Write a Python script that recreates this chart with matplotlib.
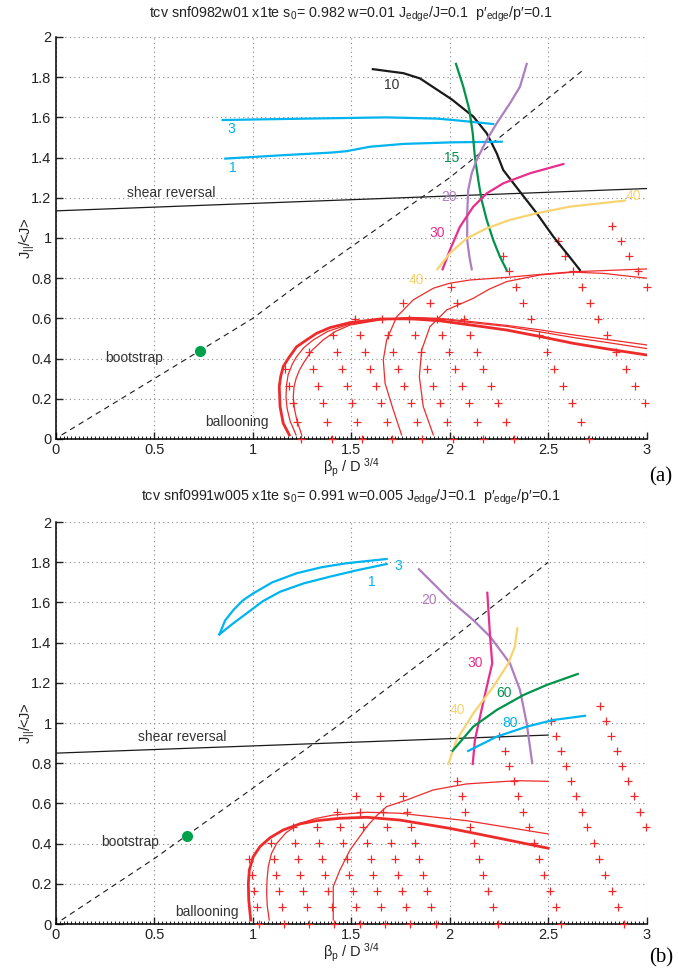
import numpy as np
import matplotlib
matplotlib.use("Agg")
import matplotlib.pyplot as plt
from matplotlib.ticker import MultipleLocator

plt.rcParams['font.family'] = ['Liberation Sans', 'DejaVu Sans']
plt.rcParams['mathtext.default'] = 'regular'

# ---------------- panel (a) data ----------------
a_title = "tcv snf0982w01 x1te s$_0$= 0.982 w=0.01 J$_{edge}$/J=0.1  p\u2032$_{edge}$/p\u2032=0.1"

a_c10_x = [1.61, 1.765, 1.849, 2.01, 2.12, 2.188, 2.239, 2.272, 2.357, 2.442, 2.526, 2.594, 2.661]
a_c10_y = [1.84, 1.82, 1.794, 1.69, 1.604, 1.521, 1.421, 1.338, 1.230, 1.123, 1.007, 0.924, 0.841]

a_c3_x = [0.848, 1.342, 1.680, 1.934, 2.018, 2.12, 2.221]
a_c3_y = [1.587, 1.595, 1.600, 1.594, 1.587, 1.577, 1.567]
a_c1_x = [0.861, 1.173, 1.40, 1.477, 1.595, 1.765, 2.018, 2.264]
a_c1_y = [1.395, 1.413, 1.425, 1.432, 1.454, 1.468, 1.476, 1.479]

a_c15_x = [2.032, 2.069, 2.10, 2.117, 2.128, 2.145, 2.162, 2.188, 2.221, 2.255, 2.289]
a_c15_y = [1.866, 1.753, 1.637, 1.521, 1.404, 1.289, 1.189, 1.09, 0.99, 0.907, 0.841]

a_c20_x = [2.391, 2.357, 2.306, 2.239, 2.188, 2.137, 2.112, 2.094, 2.089, 2.089, 2.10, 2.112]
a_c20_y = [1.866, 1.753, 1.670, 1.571, 1.488, 1.388, 1.322, 1.239, 1.123, 0.99, 0.907, 0.844]

a_c30_x = [1.964, 2.001, 2.052, 2.12, 2.188, 2.272, 2.408, 2.577]
a_c30_y = [0.844, 0.940, 1.056, 1.156, 1.222, 1.272, 1.322, 1.368]

a_c40_x = [1.937, 2.001, 2.086, 2.188, 2.306, 2.442, 2.611, 2.89]
a_c40_y = [0.844, 0.924, 0.998, 1.048, 1.090, 1.123, 1.156, 1.186]

a_shear_x = [0.0, 3.0]
a_shear_y = [1.135, 1.246]

a_boot_x = [0.03, 0.5, 1.0, 1.206, 1.477, 2.0, 2.678]
a_boot_y = [0.02, 0.30, 0.60, 0.75, 0.94, 1.30, 1.836]
a_dot = (0.734, 0.438)

a_ball_x = [1.186, 1.155, 1.139, 1.135, 1.142, 1.155, 1.181, 1.223, 1.274, 1.325, 1.392, 1.494, 1.646,
            1.80, 1.95, 2.1, 2.29, 2.458, 2.627, 2.8, 3.0]
a_ball_y = [0.020, 0.078, 0.161, 0.260, 0.310, 0.360, 0.401, 0.459, 0.493, 0.526, 0.554, 0.579, 0.597,
            0.598, 0.588, 0.568, 0.542, 0.51, 0.476, 0.448, 0.418]
a_thin_a_x = [1.22, 1.19, 1.175, 1.169, 1.172, 1.18, 1.20, 1.223, 1.26, 1.308, 1.38, 1.477, 1.646,
              1.80, 1.95, 2.1, 2.29, 2.458, 2.627, 2.8, 3.0]
a_thin_a_y = [0.02, 0.09, 0.15, 0.21, 0.27, 0.32, 0.37, 0.41, 0.455, 0.493, 0.535, 0.567, 0.595,
              0.603, 0.597, 0.58, 0.56, 0.533, 0.505, 0.48, 0.45]
a_thin_b_x = [1.249, 1.225, 1.212, 1.206, 1.21, 1.22, 1.236, 1.257, 1.30, 1.358, 1.42, 1.494, 1.646,
              1.80, 1.95, 2.1, 2.29, 2.458, 2.627, 2.8, 3.0]
a_thin_b_y = [0.02, 0.09, 0.15, 0.21, 0.26, 0.30, 0.34, 0.377, 0.44, 0.493, 0.535, 0.567, 0.592,
              0.605, 0.6, 0.585, 0.565, 0.543, 0.518, 0.495, 0.468]
a_thin_c_x = [1.756, 1.714, 1.672, 1.663, 1.680, 1.731, 1.815, 1.917, 2.0, 2.103, 2.289, 2.45, 2.627, 3.0]
a_thin_c_y = [0.02, 0.144, 0.277, 0.393, 0.493, 0.608, 0.692, 0.750, 0.775, 0.791, 0.804, 0.818, 0.832, 0.846]
a_thin_d_x = [1.917, 1.866, 1.846, 1.858, 1.90, 1.985, 2.12, 2.20, 2.289, 2.458, 2.627, 2.78, 3.0]
a_thin_d_y = [0.02, 0.161, 0.31, 0.443, 0.559, 0.642, 0.70, 0.745, 0.783, 0.816, 0.83, 0.824, 0.80]

a_row_y = [0.0, 0.086, 0.177, 0.264, 0.350, 0.434, 0.517, 0.597, 0.678, 0.758, 0.837, 0.910, 0.987, 1.061]
a_row_x = [
    [1.245, 1.401, 1.553, 1.709, 1.861, 2.018, 2.171, 2.326, 2.708],
    [1.226, 1.379, 1.528, 1.680, 1.832, 1.985, 2.137, 2.286, 2.665],
    [1.203, 1.355, 1.503, 1.651, 1.802, 1.951, 2.100, 2.247, 2.619, 2.991],
    [1.184, 1.330, 1.477, 1.624, 1.770, 1.914, 2.064, 2.210, 2.577, 2.941],
    [1.164, 1.308, 1.452, 1.596, 1.739, 1.883, 2.027, 2.171, 2.531, 2.894],
    [1.286, 1.429, 1.570, 1.711, 1.854, 1.996, 2.137, 2.492, 2.844],
    [1.406, 1.545, 1.685, 1.824, 1.962, 2.103, 2.453, 2.800],
    [1.519, 1.658, 1.795, 1.934, 2.073, 2.413, 2.754],
    [1.765, 1.900, 2.036, 2.374, 2.712],
    [2.005, 2.335, 2.670, 3.0],
    [2.303, 2.627, 2.954],
    [2.269, 2.585, 2.912],
    [2.551, 2.869],
    [2.826],
]

# ---------------- panel (b) data ----------------
b_title = "tcv snf0991w005 x1te s$_0$= 0.991 w=0.005 J$_{edge}$/J=0.1  p\u2032$_{edge}$/p\u2032=0.1"

b_c3_x = [0.831, 0.86, 0.902, 0.95, 1.003, 1.10, 1.223, 1.35, 1.477, 1.680]
b_c3_y = [1.441, 1.51, 1.562, 1.61, 1.645, 1.70, 1.745, 1.775, 1.795, 1.816]
b_c1_x = [0.831, 0.90, 0.970, 1.05, 1.139, 1.26, 1.392, 1.53, 1.680]
b_c1_y = [1.441, 1.495, 1.546, 1.605, 1.653, 1.695, 1.728, 1.76, 1.791]

b_c20_x = [1.844, 2.001, 2.12, 2.205, 2.306, 2.357, 2.391, 2.419]
b_c20_y = [1.765, 1.612, 1.512, 1.43, 1.297, 1.164, 0.998, 0.80]

b_c30_x = [2.191, 2.205, 2.216, 2.188, 2.154, 2.128, 2.117]
b_c30_y = [1.648, 1.43, 1.297, 1.18, 1.031, 0.915, 0.796]

b_c40_x = [1.993, 2.035, 2.12, 2.221, 2.298, 2.331, 2.343]
b_c40_y = [0.796, 0.915, 1.048, 1.18, 1.297, 1.38, 1.471]

b_c60_x = [2.015, 2.12, 2.239, 2.374, 2.492, 2.65]
b_c60_y = [0.862, 0.982, 1.065, 1.139, 1.189, 1.244]

b_c80_x = [2.094, 2.239, 2.391, 2.526, 2.687]
b_c80_y = [0.861, 0.932, 0.982, 1.015, 1.036]

b_shear_x = [0.0, 2.5]
b_shear_y = [0.85, 0.94]

b_boot_x = [0.03, 0.503, 1.0, 1.5, 2.0, 2.5]
b_boot_y = [0.02, 0.327, 0.675, 1.035, 1.41, 1.80]
b_dot = (0.668, 0.44)

b_ball_x = [0.990, 0.980, 0.978, 0.983, 1.003, 1.037, 1.088, 1.155, 1.240, 1.325, 1.443, 1.579, 1.748,
            2.0, 2.255, 2.50]
b_ball_y = [0.020, 0.119, 0.202, 0.269, 0.335, 0.385, 0.429, 0.468, 0.498, 0.514, 0.526, 0.531, 0.517,
            0.476, 0.426, 0.377]
b_thin_a_x = [1.084, 1.074, 1.071, 1.073, 1.079, 1.095, 1.122, 1.17, 1.24, 1.32, 1.409, 1.579, 1.748, 2.086, 2.50]
b_thin_a_y = [0.02, 0.09, 0.153, 0.22, 0.285, 0.35, 0.401, 0.455, 0.501, 0.525, 0.542, 0.556, 0.551, 0.514, 0.448]
b_thin_b_x = [1.409, 1.409, 1.443, 1.494, 1.579, 1.63, 1.68, 1.782, 1.917, 2.086, 2.34, 2.50]
b_thin_b_y = [0.02, 0.186, 0.269, 0.368, 0.484, 0.54, 0.584, 0.617, 0.667, 0.697, 0.713, 0.71]

b_row_y = [0.0, 0.086, 0.164, 0.244, 0.323, 0.404, 0.484, 0.559, 0.637, 0.713, 0.788, 0.862, 0.937, 1.011, 1.085]
b_row_x = [
    [1.032, 1.161, 1.287, 1.414, 1.545, 1.672, 1.799, 1.929, 2.247, 2.563, 2.885],
    [1.020, 1.147, 1.274, 1.401, 1.524, 1.651, 1.778, 1.905, 2.221, 2.540, 2.853],
    [1.007, 1.134, 1.257, 1.384, 1.508, 1.633, 1.759, 1.883, 2.196, 2.509, 2.822],
    [0.995, 1.118, 1.240, 1.367, 1.490, 1.612, 1.739, 1.863, 2.171, 2.479, 2.788],
    [0.983, 1.108, 1.228, 1.353, 1.477, 1.599, 1.722, 1.844, 2.149, 2.455, 2.758],
    [1.093, 1.215, 1.337, 1.460, 1.582, 1.702, 1.824, 2.125, 2.430, 2.733],
    [1.206, 1.325, 1.443, 1.561, 1.683, 1.802, 2.103, 2.403, 2.698, 2.996],
    [1.426, 1.545, 1.663, 1.785, 2.078, 2.374, 2.673, 2.966],
    [1.524, 1.646, 1.765, 2.061, 2.348, 2.641, 2.935],
    [2.036, 2.326, 2.614, 2.907],
    [2.303, 2.589, 2.876],
    [2.281, 2.563, 2.848],
    [2.252, 2.538, 2.819],
    [2.514, 2.792],
    [2.763],
]

xtick_vals = [0, 0.5, 1, 1.5, 2, 2.5, 3]
xtick_labels = ['0', '0.5', '1', '1.5', '2', '2.5', '3']
ytick_vals = [0, 0.2, 0.4, 0.6, 0.8, 1.0, 1.2, 1.4, 1.6, 1.8, 2.0]
ytick_labels = ['0', '0.2', '0.4', '0.6', '0.8', '1', '1.2', '1.4', '1.6', '1.8', '2']

# colours
CYAN = '#00b4ef'
BLACK = '#1a1a1a'
GREEN = '#00934a'
PURPLE = '#ad7fc0'
MAGENTA = '#ea2e8c'
YELLOW = '#f8d470'
RED = '#ee2b2b'
DOTGREEN = '#00a14b'


def setup_axes(ax, title, title_y):
    ax.set_xlim(0, 3)
    ax.set_ylim(0, 2)
    ax.set_xticks(xtick_vals)
    ax.set_xticklabels(xtick_labels)
    ax.set_yticks(ytick_vals)
    ax.set_yticklabels(ytick_labels)
    ax.xaxis.set_minor_locator(MultipleLocator(0.02))
    ax.tick_params(which='major', direction='in', length=5, width=1, labelsize=10.5, colors='#222222', pad=3)
    ax.tick_params(which='minor', direction='in', length=2, width=0.6, left=False)
    for s in ['top', 'right']:
        ax.spines[s].set_visible(False)
    for s in ['left', 'bottom']:
        ax.spines[s].set_linewidth(1.1)
    ax.grid(True, which='major', linestyle=(0, (1, 3)), color='#888888', linewidth=0.8)
    ax.set_axisbelow(True)
    ax.set_xlabel('\u03b2$_p$ / D$^{\\ 3/4}$', fontsize=10.5, labelpad=0, color='#222222')
    ax.set_ylabel('J$_{||}$/<J>', fontsize=10.5, labelpad=-4, color='#222222')
    fig.text(0.517, title_y, title, ha='center', va='center', fontsize=10.3, color='#222222')


def draw_markers(ax, row_y, row_x):
    for yv, xs in zip(row_y, row_x):
        ax.plot(xs, [yv] * len(xs), linestyle='none', marker='+', color=RED,
                markersize=6, markeredgewidth=0.9, clip_on=False, zorder=3)


fig = plt.figure(figsize=(6.79, 9.71), dpi=100)
ax1 = fig.add_axes([0.082, 0.5479, 0.8704, 0.414])
ax2 = fig.add_axes([0.082, 0.0484, 0.8704, 0.414])

# ---------- (a) ----------
setup_axes(ax1, a_title, 0.9856)
draw_markers(ax1, a_row_y, a_row_x)
ax1.plot(a_ball_x, a_ball_y, color=RED, lw=2.0, zorder=4)
for xs, ys in [(a_thin_a_x, a_thin_a_y), (a_thin_b_x, a_thin_b_y),
               (a_thin_c_x, a_thin_c_y), (a_thin_d_x, a_thin_d_y)]:
    ax1.plot(xs, ys, color=RED, lw=0.9, zorder=4)
ax1.plot(a_shear_x, a_shear_y, color=BLACK, lw=0.9, zorder=4)
ax1.plot(a_boot_x, a_boot_y, color=BLACK, lw=0.8, dashes=(5, 4), zorder=4)
ax1.plot(*a_dot, 'o', color=DOTGREEN, markersize=7, zorder=6)
ax1.plot(a_c10_x, a_c10_y, color=BLACK, lw=1.6, zorder=5)
ax1.plot(a_c3_x, a_c3_y, color=CYAN, lw=1.6, zorder=5)
ax1.plot(a_c1_x, a_c1_y, color=CYAN, lw=1.6, zorder=5)
ax1.plot(a_c15_x, a_c15_y, color=GREEN, lw=1.6, zorder=5)
ax1.plot(a_c20_x, a_c20_y, color=PURPLE, lw=1.6, zorder=5)
ax1.plot(a_c30_x, a_c30_y, color=MAGENTA, lw=1.6, zorder=5)
ax1.plot(a_c40_x, a_c40_y, color=YELLOW, lw=1.6, zorder=5)

lab_kw = dict(fontsize=10, ha='center', va='center', zorder=7)
ax1.text(1.707, 1.761, '10', color='#333333', **lab_kw)
ax1.text(0.89, 1.541, '3', color=CYAN, **lab_kw)
ax1.text(0.898, 1.35, '1', color=CYAN, **lab_kw)
ax1.text(2.01, 1.40, '15', color=GREEN, **lab_kw)
ax1.text(1.998, 1.203, '20', color=PURPLE, **lab_kw)
ax1.text(1.937, 1.026, '30', color=MAGENTA, **lab_kw)
ax1.text(2.932, 1.209, '40', color=YELLOW, **lab_kw)
ax1.text(1.829, 0.791, '40', color=YELLOW, **lab_kw)
ax1.text(0.588, 1.224, 'shear reversal', color='#333333', **lab_kw)
ax1.text(0.40, 0.405, 'bootstrap', color='#333333', **lab_kw)
ax1.text(0.919, 0.086, 'ballooning', color='#333333', **lab_kw)

# ---------- (b) ----------
setup_axes(ax2, b_title, 0.488)
draw_markers(ax2, b_row_y, b_row_x)
ax2.plot(b_ball_x, b_ball_y, color=RED, lw=2.0, zorder=4)
for xs, ys in [(b_thin_a_x, b_thin_a_y), (b_thin_b_x, b_thin_b_y)]:
    ax2.plot(xs, ys, color=RED, lw=0.9, zorder=4)
ax2.plot(b_shear_x, b_shear_y, color=BLACK, lw=0.9, zorder=4)
ax2.plot(b_boot_x, b_boot_y, color=BLACK, lw=0.8, dashes=(5, 4), zorder=4)
ax2.plot(*b_dot, 'o', color=DOTGREEN, markersize=7, zorder=6)
ax2.plot(b_c3_x, b_c3_y, color=CYAN, lw=1.6, zorder=5)
ax2.plot(b_c1_x, b_c1_y, color=CYAN, lw=1.6, zorder=5)
ax2.plot(b_c20_x, b_c20_y, color=PURPLE, lw=1.6, zorder=5)
ax2.plot(b_c30_x, b_c30_y, color=MAGENTA, lw=1.6, zorder=5)
ax2.plot(b_c40_x, b_c40_y, color=YELLOW, lw=1.6, zorder=5)
ax2.plot(b_c60_x, b_c60_y, color=GREEN, lw=1.6, zorder=5)
ax2.plot(b_c80_x, b_c80_y, color=CYAN, lw=1.6, zorder=5)

ax2.text(1.74, 1.78, '3', color=CYAN, **lab_kw)
ax2.text(1.607, 1.70, '1', color=CYAN, **lab_kw)
ax2.text(1.897, 1.612, '20', color=PURPLE, **lab_kw)
ax2.text(2.128, 1.297, '30', color=MAGENTA, **lab_kw)
ax2.text(2.039, 1.065, '40', color=YELLOW, **lab_kw)
ax2.text(2.276, 1.151, '60', color=GREEN, **lab_kw)
ax2.text(2.306, 1.0, '80', color=CYAN, **lab_kw)
ax2.text(0.64, 0.932, 'shear reversal', color='#333333', **lab_kw)
ax2.text(0.377, 0.406, 'bootstrap', color='#333333', **lab_kw)
ax2.text(0.77, 0.061, 'ballooning', color='#333333', **lab_kw)

fig.text(0.956, 0.509, '(a)', fontsize=15, family=['Liberation Serif', 'DejaVu Serif'], ha='left', va='center')
fig.text(0.956, 0.0134, '(b)', fontsize=15, family=['Liberation Serif', 'DejaVu Serif'], ha='left', va='center')

fig.savefig('out.png', dpi=100)
